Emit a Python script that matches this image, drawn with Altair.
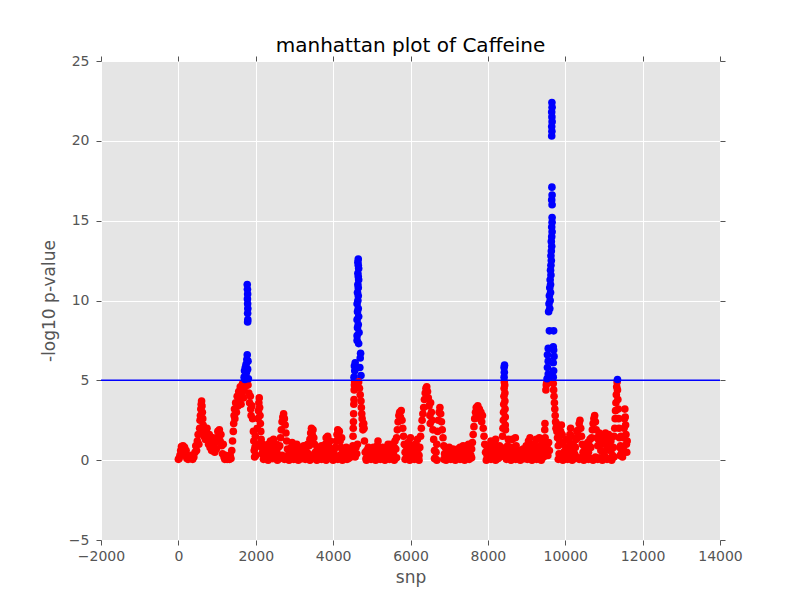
import pandas as pd
import altair as alt

# (snp index, -log10 p-value), segment by segment
snps_0_2000 = [
    (0, 0.05), (20, 0.1), (40, 0.3), (60, 0.6), (80, 0.85), (100, 0.7), (120, 0.9), (140, 0.5),
    (160, 0.8), (180, 0.3), (200, 0.6), (220, 0.1), (250, 0.05), (280, 0.2), (310, 0.1), (340, 0.3),
    (370, 0.05), (400, 0.2), (430, 0.5), (450, 0.9), (470, 0.6), (490, 1.2), (510, 1.6), (530, 1.0),
    (550, 2.0), (560, 2.5), (570, 2.8), (580, 3.2), (590, 3.5), (600, 3.7), (610, 3.4), (620, 3.0),
    (630, 2.6), (640, 2.2), (650, 1.8), (660, 1.5), (680, 1.9), (700, 1.3), (720, 1.7), (740, 2.0),
    (760, 1.4), (780, 1.0), (800, 1.6), (820, 0.8), (840, 1.2), (860, 0.6), (880, 1.0), (900, 1.4),
    (920, 0.9), (940, 0.5), (960, 1.1), (980, 0.7), (1000, 1.3), (1020, 1.8), (1040, 1.5), (1060, 1.9),
    (1080, 1.2), (1100, 1.6), (1120, 0.9), (1140, 0.4), (1160, 1.0), (1180, 0.2), (1200, 0.05),
    (1220, 0.3), (1240, 0.1), (1260, 0.05), (1280, 0.2), (1300, 0.1), (1320, 0.05), (1340, 0.3),
    (1360, 0.1), (1380, 0.6), (1400, 1.2), (1420, 1.8), (1430, 2.3), (1440, 2.8), (1450, 3.2),
    (1460, 2.6), (1480, 3.6), (1500, 3.0), (1520, 4.0), (1540, 3.4), (1560, 4.3), (1580, 3.8),
    (1600, 4.6), (1620, 3.5), (1640, 4.2), (1660, 4.8), (1680, 3.9), (1690, 4.4), (1720, 4.6),
    (1760, 4.9), (1800, 4.7), (1820, 4.2), (1840, 3.6), (1860, 4.0), (1870, 3.2), (1880, 2.8),
    (1900, 3.4), (1920, 2.6), (1940, 1.8), (1950, 1.2), (1960, 0.6), (1970, 0.2), (1980, 0.8),
    (1990, 1.5),
    (1700, 5.2), (1710, 5.6), (1720, 5.05), (1730, 5.8), (1740, 5.3), (1750, 6.0), (1760, 5.5),
    (1770, 6.3), (1780, 6.6), (1790, 5.7), (1800, 6.2), (1810, 5.1),
    (1780, 11.0), (1785, 10.7), (1790, 10.4), (1785, 10.1), (1790, 9.8), (1795, 9.5), (1790, 9.2),
    (1795, 8.8), (1790, 8.65),
]

snps_2000_4500 = [
    (2000, 0.3), (2020, 1.0), (2040, 2.0), (2060, 2.6), (2070, 3.1), (2080, 3.6), (2090, 3.9),
    (2100, 3.3), (2110, 2.8), (2120, 2.3), (2130, 1.8), (2140, 1.3), (2150, 0.8), (2160, 0.4),
    (2180, 1.0), (2200, 0.6), (2220, 0.2), (2240, 0.9), (2260, 0.5), (2280, 0.1), (2300, 0.7),
    (2320, 1.0), (2340, 0.4), (2360, 0.8), (2380, 1.2), (2400, 0.6), (2420, 0.3), (2440, 0.9),
    (2460, 1.3), (2480, 0.7), (2500, 0.2), (2520, 0.6), (2540, 1.0), (2560, 0.4), (2580, 0.8),
    (2600, 0.2), (2620, 0.9), (2640, 1.4), (2660, 1.9), (2680, 2.4), (2700, 2.7), (2720, 2.9),
    (2740, 2.6), (2760, 2.2), (2780, 1.7), (2800, 1.2), (2820, 0.7), (2840, 0.3), (2860, 0.6),
    (2880, 0.1), (2900, 0.4), (2920, 0.8), (2940, 1.1), (2960, 0.6), (2980, 0.2), (3000, 0.5),
    (3020, 0.1), (3040, 0.7), (3060, 1.0), (3080, 0.4), (3100, 0.1), (3120, 0.6), (3140, 0.3),
    (3160, 0.8), (3180, 0.5), (3200, 0.1), (3220, 0.6), (3240, 0.9), (3260, 0.3), (3280, 0.7),
    (3300, 0.2), (3320, 0.5), (3340, 1.0), (3360, 0.4), (3380, 0.9), (3400, 1.3), (3420, 1.7),
    (3440, 2.0), (3460, 1.6), (3480, 1.9), (3500, 1.4), (3520, 1.0), (3540, 0.5), (3560, 0.1),
    (3580, 0.6), (3600, 0.3), (3620, 0.8), (3640, 0.4), (3660, 0.1), (3680, 0.5), (3700, 0.9),
    (3720, 0.4), (3740, 0.7), (3760, 0.2), (3780, 0.6), (3800, 1.0), (3820, 1.4), (3840, 1.1),
    (3860, 1.5), (3880, 0.9), (3900, 0.5), (3920, 1.2), (3940, 0.7), (3960, 0.2), (3980, 0.5),
    (4000, 0.1), (4020, 0.6), (4040, 0.3), (4060, 0.8), (4080, 1.2), (4100, 1.6), (4120, 1.9),
    (4140, 1.5), (4160, 1.8), (4180, 1.2), (4200, 0.8), (4220, 1.4), (4240, 0.6), (4260, 0.2),
    (4280, 0.5), (4300, 0.1), (4320, 0.4), (4340, 0.8), (4360, 0.3), (4380, 0.6), (4400, 0.1),
    (4420, 0.3), (4440, 0.7), (4460, 0.2), (4480, 0.6),
]

snps_4500_4800 = [
    (4500, 0.3), (4510, 0.9), (4515, 1.5), (4520, 2.0), (4525, 2.4), (4530, 2.9), (4535, 3.5),
    (4540, 3.8), (4545, 4.4), (4550, 4.7), (4555, 4.9), (4570, 0.2), (4590, 0.8), (4610, 0.4),
    (4630, 1.0),
    (4540, 5.2), (4560, 5.6), (4550, 5.9), (4570, 6.1), (4700, 6.4), (4710, 6.7), (4690, 5.8),
    (4720, 5.3), (4620, 7.5), (4660, 7.3),
    (4650, 12.6), (4640, 12.4), (4650, 12.2), (4660, 12.0), (4640, 11.7), (4650, 11.5),
    (4660, 11.3), (4640, 11.0), (4650, 10.8), (4630, 10.5), (4650, 10.3), (4640, 10.0),
    (4620, 9.8), (4650, 9.5), (4630, 9.3), (4660, 9.0), (4620, 8.8), (4650, 8.5), (4630, 8.3),
    (4670, 8.0), (4620, 7.8),
    (4660, 4.9), (4680, 4.5), (4700, 4.1), (4720, 3.7), (4730, 3.3), (4740, 2.9), (4750, 2.6),
    (4760, 2.2), (4770, 1.9), (4790, 2.3), (4800, 2.0),
]

snps_4800_8350 = [
    (4810, 1.2), (4830, 0.5), (4850, 0.1), (4870, 0.6), (4890, 0.3), (4910, 0.8), (4930, 0.2),
    (4950, 0.5), (4970, 0.1), (5000, 0.7), (5020, 0.4), (5040, 0.8), (5060, 0.2), (5080, 0.5),
    (5100, 0.1), (5120, 0.6), (5140, 0.9), (5160, 1.2), (5180, 0.8), (5200, 0.4), (5220, 0.1),
    (5240, 0.6), (5260, 0.3), (5280, 0.8), (5300, 0.5), (5320, 0.1), (5340, 0.4), (5360, 0.7),
    (5380, 0.3), (5400, 0.6), (5420, 1.0), (5440, 0.5), (5460, 0.2), (5480, 0.7), (5500, 1.0),
    (5520, 0.6), (5540, 0.9), (5560, 0.4), (5580, 0.8), (5600, 1.2), (5620, 0.7), (5640, 1.4),
    (5660, 1.9), (5680, 2.4), (5700, 2.8), (5720, 3.0), (5740, 2.7), (5760, 3.1), (5780, 2.5),
    (5800, 2.0), (5820, 1.5), (5840, 1.0), (5860, 0.5), (5880, 0.9), (5900, 0.3), (5920, 0.7),
    (5940, 1.1), (5960, 0.6), (5980, 1.0), (6000, 1.4), (6020, 0.9), (6040, 0.4), (6060, 0.8),
    (6080, 0.2), (6100, 0.6), (6120, 1.0), (6140, 0.5), (6160, 0.9), (6180, 1.3), (6200, 0.7),
    (6220, 0.3), (6240, 0.8), (6260, 1.5), (6280, 2.0), (6300, 2.5), (6320, 2.9), (6340, 3.3),
    (6360, 3.8), (6380, 4.2), (6400, 4.5), (6420, 4.6), (6440, 4.3), (6460, 3.9), (6480, 3.4),
    (6500, 2.8), (6510, 2.3), (6520, 3.6), (6540, 3.0), (6560, 2.5), (6580, 1.9), (6600, 1.3),
    (6620, 0.6), (6640, 0.1), (6660, 0.5), (6680, 1.0), (6700, 1.8), (6720, 2.5), (6740, 3.0),
    (6760, 3.3), (6780, 2.9), (6800, 2.4), (6820, 1.9), (6840, 1.4), (6860, 0.9), (6880, 0.4),
    (6900, 0.8), (6920, 0.2), (6940, 0.6), (6960, 0.1), (6980, 0.5), (7000, 0.8), (7020, 0.3),
    (7040, 0.6), (7060, 0.1), (7080, 0.4), (7100, 0.7), (7120, 0.2), (7140, 0.5), (7160, 0.1),
    (7180, 0.6), (7200, 0.3), (7220, 0.7), (7240, 0.2), (7260, 0.5), (7280, 0.8), (7300, 0.3),
    (7320, 0.1), (7340, 0.6), (7360, 0.9), (7380, 0.4), (7400, 0.7), (7420, 0.2), (7440, 0.5),
    (7460, 0.9), (7480, 0.6), (7500, 1.0), (7520, 0.5), (7540, 0.8), (7560, 0.3), (7580, 0.7),
    (7600, 1.1), (7620, 1.6), (7640, 2.1), (7660, 2.6), (7680, 3.0), (7700, 3.3), (7720, 2.8),
    (7740, 3.4), (7760, 2.9), (7780, 3.2), (7800, 2.6), (7820, 3.0), (7840, 2.4), (7860, 2.8),
    (7880, 2.0), (7900, 1.5), (7920, 1.0), (7940, 0.5), (7960, 0.9), (7980, 0.3), (8000, 0.7),
    (8020, 0.2), (8040, 0.5), (8060, 0.9), (8080, 1.2), (8100, 0.7), (8120, 0.3), (8140, 0.8),
    (8160, 0.4), (8180, 1.0), (8200, 1.3), (8220, 0.8), (8240, 0.4), (8260, 0.1), (8280, 0.5),
    (8300, 0.9), (8320, 0.4), (8340, 0.8),
]

snps_8350_9500 = [
    (8360, 0.3), (8380, 1.5), (8390, 2.0), (8400, 2.5), (8405, 3.0), (8410, 3.5), (8415, 4.0),
    (8420, 4.5), (8425, 4.9), (8420, 5.2), (8425, 5.5), (8420, 5.8), (8430, 5.95), (8435, 4.7),
    (8440, 4.2), (8440, 3.7), (8445, 3.2), (8450, 2.7), (8450, 2.2), (8455, 1.9), (8470, 0.6),
    (8490, 0.2), (8510, 0.9), (8530, 1.3), (8550, 0.6), (8570, 0.1), (8590, 0.4), (8610, 0.8),
    (8630, 1.3), (8650, 0.7), (8670, 0.3), (8690, 0.8), (8710, 1.4), (8730, 0.9), (8750, 0.4),
    (8770, 0.1), (8790, 0.5), (8810, 0.2), (8830, 0.6), (8850, 0.1), (8870, 0.4), (8890, 0.2),
    (8910, 0.7), (8930, 0.3), (8950, 0.1), (8970, 0.5), (8990, 0.9), (9010, 0.4), (9030, 0.8),
    (9050, 1.2), (9070, 0.7), (9090, 1.4), (9110, 0.9), (9130, 0.5), (9150, 0.2), (9170, 0.6),
    (9190, 1.0), (9210, 0.4), (9230, 0.8), (9250, 1.3), (9270, 0.7), (9290, 0.3), (9310, 0.8),
    (9330, 1.4), (9350, 0.9), (9370, 0.5), (9390, 1.0), (9410, 0.6), (9430, 1.2), (9450, 0.7),
    (9470, 1.9), (9475, 2.3), (9480, 1.4), (9490, 0.5),
]

snps_9500_9800 = [
    (9500, 4.4), (9510, 4.7), (9520, 4.85), (9530, 0.9), (9550, 0.3), (9570, 1.1), (9590, 0.6),
    (9530, 5.1), (9560, 5.4), (9540, 5.8), (9560, 6.2), (9540, 6.6), (9560, 7.0), (9590, 8.1),
    (9700, 8.1), (9690, 5.2), (9700, 5.6), (9690, 6.1), (9710, 6.5), (9700, 6.9), (9690, 7.1),
    (9570, 9.3), (9600, 9.5), (9580, 9.8), (9610, 10.0), (9590, 10.3), (9620, 10.5), (9600, 10.8),
    (9620, 11.0), (9610, 11.3), (9630, 11.6), (9620, 11.9), (9630, 12.2), (9640, 12.5),
    (9630, 12.8), (9640, 13.1), (9650, 13.4), (9640, 13.7), (9650, 14.0), (9660, 14.3),
    (9650, 14.6), (9660, 14.9), (9660, 15.2),
    (9660, 16.0), (9650, 16.3), (9660, 16.6), (9655, 17.1),
    (9650, 20.3), (9655, 20.6), (9650, 20.9), (9660, 21.2), (9655, 21.5), (9650, 21.8),
    (9660, 22.1), (9655, 22.4),
    (9690, 4.8), (9700, 4.4), (9710, 4.0), (9720, 3.6), (9730, 3.2), (9740, 2.8), (9750, 2.4),
    (9760, 2.0), (9770, 2.3), (9785, 1.8),
]

snps_9800_11650 = [
    (9800, 1.4), (9820, 0.9), (9840, 0.4), (9860, 1.2), (9880, 1.8), (9900, 2.2), (9920, 1.6),
    (9940, 1.0), (9960, 0.5), (9980, 0.1), (10000, 0.6), (10020, 1.3), (10040, 0.8), (10060, 0.3),
    (10080, 0.7), (10100, 1.2), (10120, 1.6), (10140, 2.0), (10160, 1.5), (10180, 1.0),
    (10200, 0.5), (10220, 0.9), (10240, 0.4), (10260, 0.8), (10280, 1.3), (10300, 1.8),
    (10320, 1.4), (10340, 1.9), (10360, 2.3), (10380, 2.5), (10400, 2.0), (10420, 1.5),
    (10440, 1.0), (10460, 0.5), (10480, 0.9), (10500, 0.3), (10520, 0.7), (10540, 0.2),
    (10560, 0.6), (10580, 1.1), (10600, 0.5), (10620, 0.9), (10640, 1.3), (10660, 0.8),
    (10680, 1.4), (10700, 1.9), (10720, 2.3), (10740, 2.6), (10760, 2.8), (10780, 2.4),
    (10800, 1.9), (10820, 1.4), (10840, 0.9), (10860, 1.3), (10880, 1.7), (10900, 1.2),
    (10920, 0.6), (10940, 1.0), (10960, 1.5), (10980, 1.1), (11000, 0.5), (11020, 1.2),
    (11040, 1.7), (11060, 1.3), (11080, 0.8), (11100, 1.4), (11120, 1.6), (11140, 1.1),
    (11160, 0.6), (11180, 1.2), (11200, 0.7), (11220, 0.3), (11240, 0.8), (11260, 1.5),
    (11280, 2.0), (11290, 2.6), (11300, 3.1), (11310, 3.6), (11320, 4.1), (11330, 4.6),
    (11340, 4.9), (11350, 5.05), (11350, 4.4), (11360, 3.8), (11370, 3.2), (11380, 2.6),
    (11390, 2.0), (11400, 1.4), (11410, 0.8), (11420, 0.3), (11430, 0.9), (11440, 1.5),
    (11460, 0.6), (11480, 0.2), (11500, 0.8), (11510, 1.4), (11520, 2.0), (11530, 2.6),
    (11540, 3.2), (11550, 2.7), (11560, 2.2), (11570, 1.6), (11580, 1.0), (11590, 0.5),
    (11600, 1.2),
]

# the many snps that sit on the floor of the band
snps_near_zero = [
    (2200, 0.05), (2260, 0.2), (2320, 0.0), (2380, 0.15), (2440, 0.1), (2500, 0.25), (2560, 0.0),
    (2620, 0.1), (2680, 0.3), (2740, 0.05), (2800, 0.2), (2860, 0.0), (2920, 0.15), (2980, 0.05),
    (3040, 0.25), (3100, 0.0), (3160, 0.1), (3220, 0.2), (3280, 0.05), (3340, 0.15), (3400, 0.0),
    (3460, 0.3), (3520, 0.1), (3580, 0.0), (3640, 0.2), (3700, 0.05), (3760, 0.15), (3820, 0.0),
    (3880, 0.25), (3940, 0.1), (4000, 0.0), (4060, 0.2), (4120, 0.05), (4180, 0.3), (4240, 0.0),
    (4300, 0.15), (4360, 0.05), (4420, 0.2),
    (4860, 0.0), (4920, 0.2), (4980, 0.05), (5040, 0.15), (5100, 0.0), (5160, 0.25), (5220, 0.05),
    (5280, 0.1), (5340, 0.0), (5400, 0.2), (5460, 0.05), (5520, 0.3), (5580, 0.0), (5640, 0.15),
    (5860, 0.05), (5920, 0.2), (5980, 0.0), (6040, 0.15), (6100, 0.05), (6160, 0.25), (6220, 0.0),
    (6620, 0.1), (6680, 0.0), (6860, 0.05), (6920, 0.0), (6980, 0.2), (7040, 0.05), (7100, 0.15),
    (7160, 0.0), (7220, 0.25), (7280, 0.05), (7340, 0.1), (7400, 0.0), (7460, 0.2), (7520, 0.05),
    (7580, 0.15),
    (7960, 0.0), (8020, 0.15), (8080, 0.05), (8140, 0.25), (8200, 0.0), (8260, 0.1), (8320, 0.2),
    (8480, 0.05), (8540, 0.2), (8600, 0.0), (8660, 0.15), (8720, 0.05), (8780, 0.25), (8840, 0.0),
    (8900, 0.1), (8960, 0.2), (9020, 0.05), (9080, 0.15), (9140, 0.0), (9200, 0.25), (9260, 0.05),
    (9320, 0.1), (9380, 0.0), (9440, 0.2),
    (9820, 0.05), (9880, 0.2), (9940, 0.0), (10000, 0.15), (10060, 0.05), (10120, 0.25),
    (10180, 0.0), (10240, 0.1), (10300, 0.2), (10360, 0.05), (10420, 0.15), (10480, 0.0),
    (10540, 0.25), (10600, 0.05), (10660, 0.1), (10720, 0.0), (10780, 0.2), (10840, 0.05),
    (10900, 0.15), (10960, 0.0), (11020, 0.25), (11080, 0.05), (11140, 0.1), (11200, 0.0),
    (11260, 0.2),
]

x_ticks = [-2000, 0, 2000, 4000, 6000, 8000, 10000, 12000, 14000]
y_ticks = [-5, 0, 5, 10, 15, 20, 25]
threshold = [5]

points = pd.DataFrame(
    snps_near_zero + snps_0_2000 + snps_2000_4500 + snps_4500_4800 + snps_4800_8350
    + snps_8350_9500 + snps_9500_9800 + snps_9800_11650,
    columns=["snp", "logp"],
)

font = "DejaVu Sans"
x_scale = alt.Scale(domain=[-2000, 14000], nice=False, zero=False)
y_scale = alt.Scale(domain=[-5, 25], nice=False, zero=False)

tick_style = dict(
    tickColor="#555555", tickSize=5, domain=False, labelFlush=False,
    labelColor="#555555", labelFont=font, labelFontSize=14,
    titleColor="#555555", titleFont=font, titleFontSize=17, titleFontWeight="normal",
)

base = alt.Chart(points)

dots = base.mark_circle(size=58, opacity=1).encode(
    x=alt.X("snp:Q", scale=x_scale, title="snp",
            axis=alt.Axis(values=x_ticks, format="d", grid=True, gridColor="white",
                          labelPadding=4, titlePadding=6, **tick_style)),
    y=alt.Y("logp:Q", scale=y_scale, title="-log10 p-value",
            axis=alt.Axis(values=y_ticks, format="d", grid=True, gridColor="white",
                          labelPadding=7, titlePadding=10, **tick_style)),
    color=alt.condition(alt.datum.logp > threshold[0], alt.value("#0000FF"), alt.value("#FF0000")),
)

# invisible copy that only carries the mirrored ticks on top and right
mirror = base.mark_circle(opacity=0).encode(
    x=alt.X("snp:Q", scale=x_scale, title=None,
            axis=alt.Axis(orient="top", values=x_ticks, labels=False, grid=False, **tick_style)),
    y=alt.Y("logp:Q", scale=y_scale, title=None,
            axis=alt.Axis(orient="right", values=y_ticks, labels=False, grid=False, **tick_style)),
)

line = alt.Chart(pd.DataFrame({"level": threshold})).mark_rule(
    color="#0000FF", strokeWidth=1.5
).encode(y=alt.Y("level:Q", scale=y_scale, axis=None))

chart = alt.layer(mirror, dots, line).resolve_axis(
    x="independent", y="independent"
).properties(
    width=619,
    height=479,
    autosize="none",
    padding={"left": 93, "top": 53, "right": 60, "bottom": 50},
    title=alt.TitleParams("manhattan plot of Caffeine", font=font, fontSize=20,
                          fontWeight="normal", color="black", offset=-2),
).configure(
    background="white"
).configure_view(
    fill="#E5E5E5", strokeOpacity=0
)

chart.save("out.html", embed_options={"renderer": "svg", "actions": False})
